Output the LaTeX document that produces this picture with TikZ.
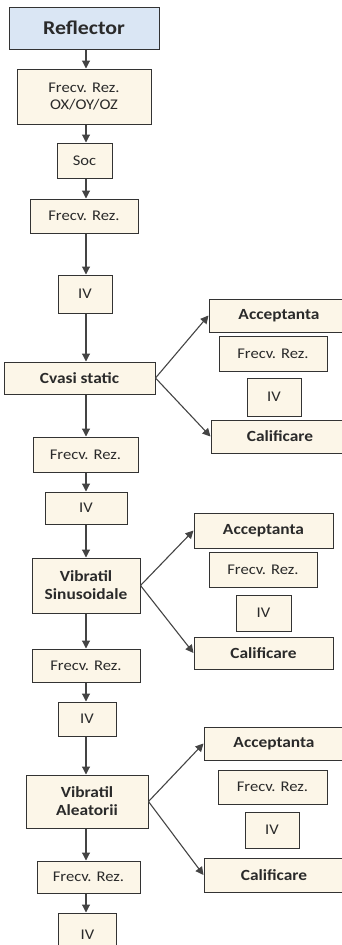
\documentclass[tikz,border=0pt]{standalone}
\usepackage{fontspec}
\setmainfont[FakeStretch=1.12]{Carlito}
\usetikzlibrary{arrows.meta}
\definecolor{cream}{HTML}{FCF6E8}
\definecolor{paleblue}{HTML}{DAE6F4}
\definecolor{edge}{HTML}{333333}
\definecolor{arr}{HTML}{444444}
\definecolor{txt}{HTML}{2A2A2A}
\tikzset{
  box/.style={draw=edge, line width=1pt, fill=cream, text=txt, inner sep=1pt, align=center, font=\fontsize{14.8}{17}\selectfont},
  bbox/.style={box, font=\fontsize{15.5}{18}\selectfont\bfseries},
  flow/.style={draw=arr, line width=1.1pt, -{Triangle[length=8pt,width=8pt]}},
}
\newcommand{\bx}[6]{\node[#1, minimum width=#4, minimum height=#5] (#2) at (#3) {#6};}
\begin{document}
\begin{tikzpicture}[x=1pt,y=-1pt]
\useasboundingbox (0,0) rectangle (342,945);
\clip (0,0) rectangle (342,945);
\coordinate (spine) at (86,0);
% main column
\bx{bbox, fill=paleblue, font=\fontsize{19.5}{22}\selectfont\bfseries}{refl}{84,28}{150pt}{42pt}{Reflector}
\bx{box}{ox}{84,96.5}{134pt}{55pt}{Frecv. Rez.\\OX/OY/OZ}
\bx{box}{soc}{84.5,160.5}{55pt}{35pt}{Soc}
\bx{box}{fr1}{84,216}{108pt}{34pt}{Frecv. Rez.}
\bx{box}{iv1}{85,294}{54pt}{38pt}{IV}
\bx{bbox}{cvasi}{79.5,378}{151pt}{32pt}{Cvasi static}
\bx{box}{fr3}{85.5,454.5}{105pt}{35pt}{Frecv. Rez.}
\bx{box}{iv3}{86,508}{82pt}{32pt}{IV}
\bx{bbox}{vs}{86,585.5}{108pt}{55pt}{Vibratil\\Sinusoidale}
\bx{box}{fr4}{86,665.5}{108pt}{33pt}{Frecv. Rez.}
\bx{box}{iv4}{87,719}{58pt}{34pt}{IV}
\bx{bbox}{va}{87,801.5}{122pt}{53pt}{Vibratil\\Aleatorii}
\bx{box}{fr5}{88.5,877}{103pt}{32pt}{Frecv. Rez.}
\bx{box}{iv5}{87.5,935}{58pt}{44pt}{IV}
% side group 1
\bx{bbox}{accA}{279,315.5}{140pt}{33pt}{Acceptanta}
\bx{box}{frA}{273,353.5}{108pt}{35pt}{Frecv. Rez.}
\bx{box}{ivA}{274,397}{54pt}{38pt}{IV}
\bx{bbox}{calA}{280,436.5}{138pt}{33pt}{Calificare}
% side group 2
\bx{bbox}{accB}{263.5,530.5}{139pt}{35pt}{Acceptanta}
\bx{box}{frB}{263,569.5}{108pt}{35pt}{Frecv. Rez.}
\bx{box}{ivB}{263.5,613}{55pt}{36pt}{IV}
\bx{bbox}{calB}{263.5,653}{139pt}{32pt}{Calificare}
% side group 3
\bx{bbox}{accC}{274,743.5}{140pt}{33pt}{Acceptanta}
\bx{box}{frC}{272.5,787}{109pt}{34pt}{Frecv. Rez.}
\bx{box}{ivC}{272,830}{54pt}{36pt}{IV}
\bx{bbox}{calC}{274,875}{140pt}{34pt}{Calificare}
% vertical flow
\foreach \a/\b in {refl/ox, ox/soc, soc/fr1, fr1/iv1, iv1/cvasi, cvasi/fr3, fr3/iv3, iv3/vs, vs/fr4, fr4/iv4, iv4/va, va/fr5, fr5/iv5}
  \draw[flow] (\a.south -| spine) -- (\b.north -| spine);
% branches
\draw[flow] (cvasi.east) -- (accA.west);
\draw[flow] (cvasi.east) -- (calA.west);
\draw[flow] (vs.east) -- (accB.west);
\draw[flow] (vs.east) -- (calB.west);
\draw[flow] (va.east) -- (accC.west);
\draw[flow] (va.east) -- (calC.west);
\end{tikzpicture}
\end{document}
